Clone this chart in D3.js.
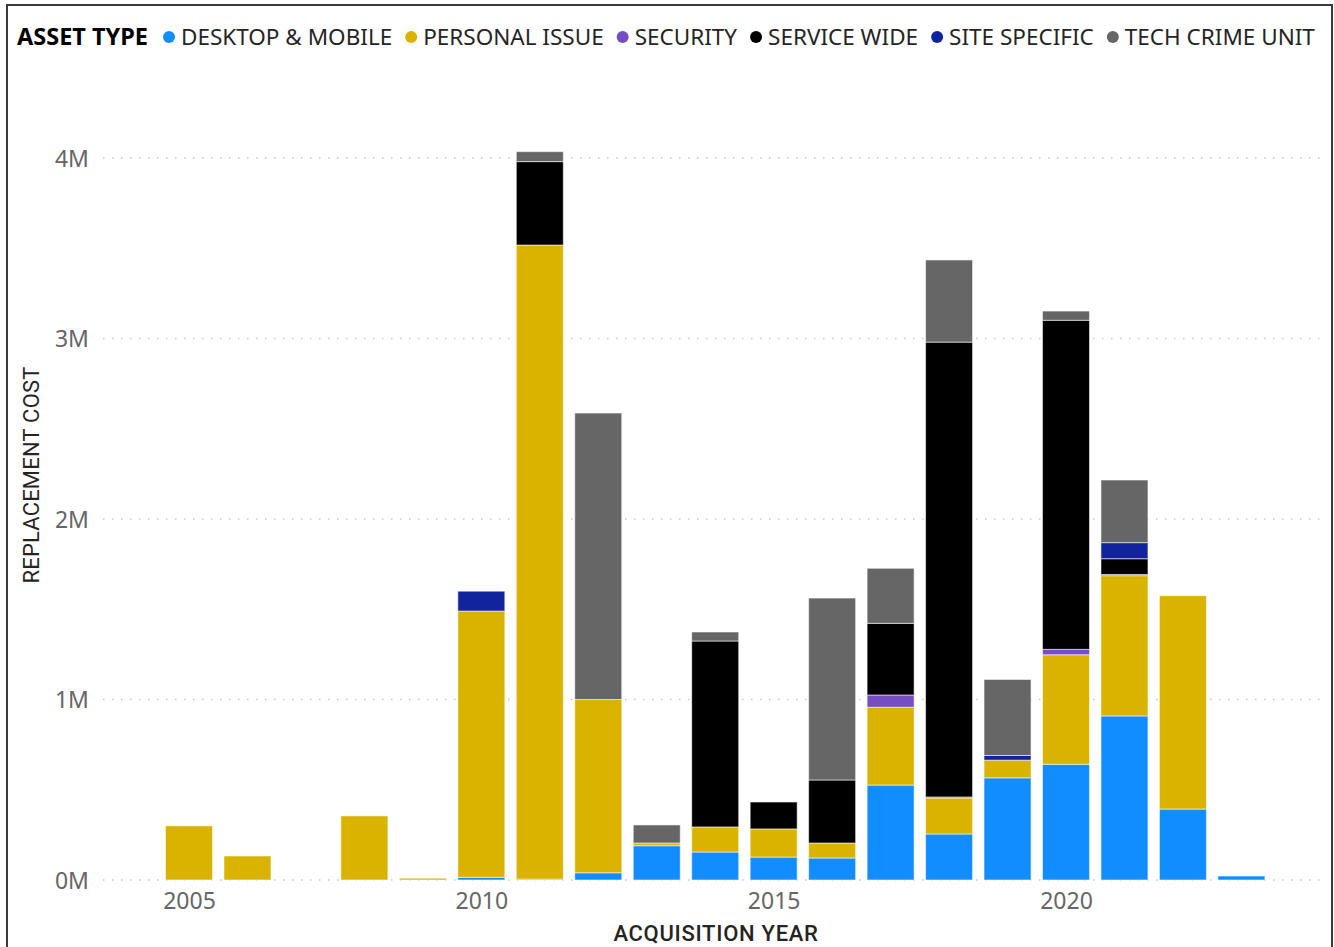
<!DOCTYPE html>
<html><head><meta charset="utf-8">
<script src="https://cdn.jsdelivr.net/npm/d3@7"></script>
<style>html,body{margin:0;padding:0;background:#fff;overflow:hidden}</style>
</head><body>
<svg id="chart" width="1334" height="947"></svg>
<script>
const years = [2005, 2006, 2008, 2009, 2010, 2011, 2012, 2013, 2014, 2015, 2016, 2017, 2018, 2019, 2020, 2021, 2022, 2023];
const seriesNames = ["DESKTOP & MOBILE", "PERSONAL ISSUE", "SECURITY", "SERVICE WIDE", "SITE SPECIFIC", "TECH CRIME UNIT"];
const seriesColors = ["#118DFF", "#D9B300", "#744EC2", "#000000", "#12239E", "#666666"];
// values in millions, per year (same order as years)
const desktopMobile = [0, 0, 0, 0, 0.015, 0.005, 0.04, 0.19, 0.155, 0.127, 0.122, 0.526, 0.255, 0.566, 0.641, 0.909, 0.393, 0.022];
const personalIssue = [0.30, 0.133, 0.355, 0.01, 1.475, 3.513, 0.96, 0.015, 0.139, 0.156, 0.083, 0.431, 0.199, 0.098, 0.607, 0.777, 1.182, 0];
const security      = [0, 0, 0, 0, 0, 0, 0, 0, 0, 0, 0, 0.068, 0.006, 0, 0.030, 0.007, 0, 0];
const serviceWide   = [0, 0, 0, 0, 0, 0.462, 0, 0, 1.030, 0.149, 0.349, 0.397, 2.52, 0, 1.823, 0.087, 0, 0];
const siteSpecific  = [0, 0, 0, 0, 0.11, 0, 0, 0, 0, 0, 0, 0, 0, 0.026, 0, 0.089, 0, 0];
const techCrimeUnit = [0, 0, 0, 0, 0, 0.055, 1.587, 0.10, 0.05, 0, 1.008, 0.305, 0.455, 0.421, 0.051, 0.347, 0, 0];
const yTicks = [0, 1, 2, 3, 4];
const xTicks = [2005, 2010, 2015, 2020];

const seriesValues = [desktopMobile, personalIssue, security, serviceWide, siteSpecific, techCrimeUnit];
const rows = years.map((y, i) => {
  const r = {year: y};
  seriesNames.forEach((n, k) => r[n] = seriesValues[k][i]);
  return r;
});

const svg = d3.select("#chart");
const font = "'Segoe UI','Noto Sans','Open Sans',sans-serif";
const titleFont = "Roboto,'Noto Sans',sans-serif";

// frame
svg.append("rect").attr("x", 7).attr("y", 5).attr("width", 1325).attr("height", 950)
  .attr("fill", "none").attr("stroke", "#3a3a3a").attr("stroke-width", 2);

const x = d3.scaleLinear().domain([2005, 2020]).range([189, 1066]);
const y = d3.scaleLinear().domain([0, 4]).range([880, 158]);
const barW = 47;

// gridlines
svg.append("g").selectAll("line").data(yTicks).join("line")
  .attr("x1", 103).attr("x2", 1322)
  .attr("y1", d => y(d)).attr("y2", d => y(d))
  .attr("stroke", "#c8c8c8").attr("stroke-width", 1.5)
  .attr("stroke-dasharray", "1.5,7.5");

// y tick labels
const yAxis = d3.axisLeft(y).tickValues(yTicks).tickFormat(d => d + "M").tickSize(0).tickPadding(0);
const gy = svg.append("g").attr("transform", "translate(89,0)").call(yAxis);
gy.select(".domain").remove();
gy.selectAll("text").attr("font-family", font).attr("font-size", 23).attr("fill", "#666666").attr("dy", "0.35em");

// x tick labels
const xAxis = d3.axisBottom(x).tickValues(xTicks).tickFormat(d3.format("d")).tickSize(0).tickPadding(0);
const gx = svg.append("g").attr("transform", "translate(0,893)").call(xAxis);
gx.select(".domain").remove();
gx.selectAll("text").attr("font-family", font).attr("font-size", 23).attr("fill", "#666666").attr("dy", "0.71em");

// stacked bars
const stack = d3.stack().keys(seriesNames)(rows);
svg.append("g").selectAll("g").data(stack).join("g")
  .attr("fill", (d, i) => seriesColors[i])
  .selectAll("rect").data(d => d.filter(s => s[1] - s[0] > 0)).join("rect")
  .attr("x", d => x(d.data.year) - barW / 2)
  .attr("width", barW)
  .attr("y", d => y(d[1]))
  .attr("height", d => y(d[0]) - y(d[1]))
  .attr("stroke", "rgba(255,255,255,0.55)").attr("stroke-width", 1);

// axis titles
svg.append("text").attr("x", 716).attr("y", 941).attr("text-anchor", "middle")
  .attr("font-family", titleFont).attr("font-size", 22).attr("font-weight", 500)
  .attr("letter-spacing", 0.7)
  .attr("fill", "#252423").text("ACQUISITION YEAR");
svg.append("text").attr("transform", "translate(39,475) rotate(-90)").attr("text-anchor", "middle")
  .attr("font-family", titleFont).attr("font-size", 22).attr("letter-spacing", 0.2)
  .attr("fill", "#252423").text("REPLACEMENT COST");

// legend
const lg = svg.append("g").attr("transform", "translate(0,37)");
const title = lg.append("text").attr("x", 17).attr("y", 0).attr("dy", "0.35em")
  .attr("font-family", font).attr("font-size", 23.5).attr("font-weight", "bold").attr("fill", "#000")
  .text("ASSET TYPE");
let cx = 17 + title.node().getComputedTextLength() + 21;
seriesNames.forEach((n, i) => {
  lg.append("circle").attr("cx", cx).attr("cy", 0).attr("r", 6).attr("fill", seriesColors[i]);
  const t = lg.append("text").attr("x", cx + 12).attr("y", 0).attr("dy", "0.35em")
    .attr("font-family", font).attr("font-size", 22.5).attr("fill", "#252423").text(n);
  cx = cx + 12 + t.node().getComputedTextLength() + 19;
});
</script>
</body></html>
